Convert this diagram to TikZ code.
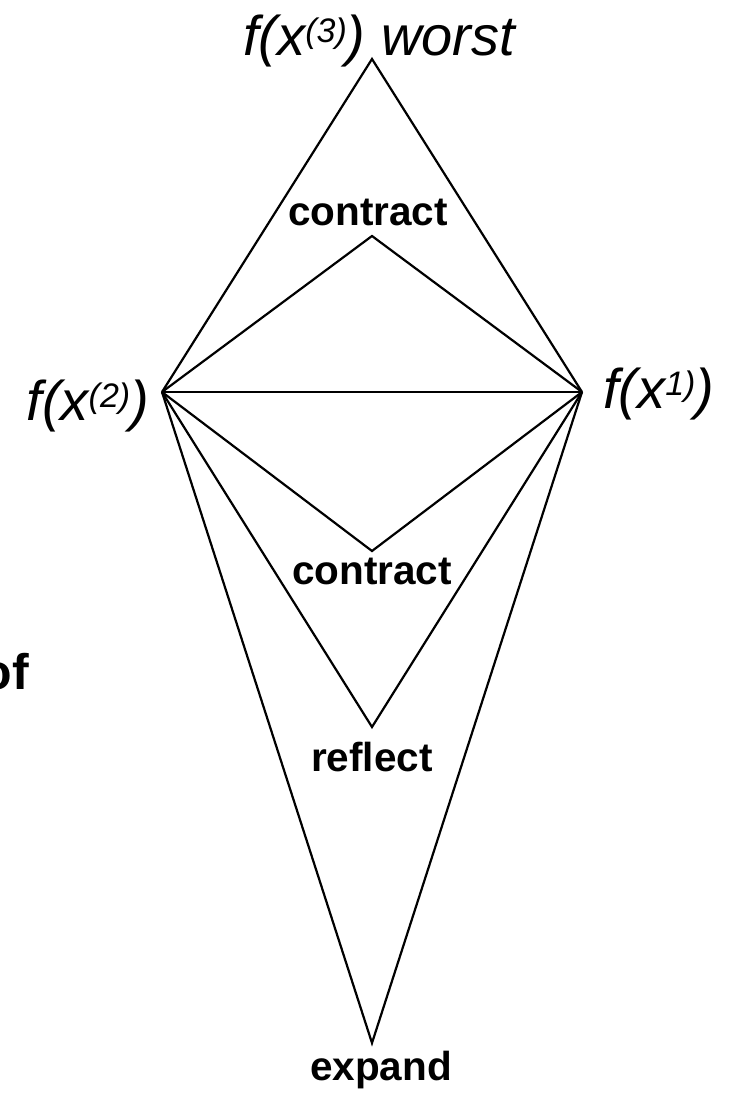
\documentclass[tikz,border=0pt]{standalone}
\usepackage{fontspec}
\setmainfont{Liberation Sans}
\usetikzlibrary{positioning}

\newcommand{\supidx}[1]{\raisebox{13pt}{\fontsize{34}{34}\selectfont #1}}

\begin{document}
\begin{tikzpicture}[x=1pt, y=-1pt, line width=2.2pt,
    fval/.style={inner sep=0, font=\fontsize{56}{60}\selectfont\itshape},
    move/.style={inner sep=0, font=\fontsize{40.5}{44}\selectfont\bfseries}]
  \useasboundingbox (0,0) rectangle (729,1093);

  % simplex vertices and trial points
  \coordinate (W)  at (372,59);
  \coordinate (X2) at (162,392);
  \coordinate (X1) at (582,392);
  \coordinate (C1) at (372,236);
  \coordinate (C2) at (372,551);
  \coordinate (R)  at (372,727);
  \coordinate (E)  at (372,1043);

  \draw (X2) -- (W) -- (X1);
  \draw (X2) -- (X1);
  \draw (X2) -- (C1) -- (X1);
  \draw (X2) -- (C2) -- (X1);
  \draw (X2) -- (R) -- (X1);
  \draw (X2) -- (E) -- (X1);

  % labels
  \node[fval, anchor=base] (worst) at (379,55) {f(x\supidx{(3)}) worst};
  \node[fval, anchor=base east] (second) at (150,420) {f(x\supidx{(2)})};
  \node[fval, anchor=base west] (best) at (602,408) {f(x\supidx{1)})};
  \node[move, anchor=base] (inner) at (368,225) {contract};
  \node[move, anchor=base] (outer) at (372,584) {contract};
  \node[move, anchor=base] (refl) at (372,771) {reflect};
  \node[move, anchor=base] (expd) at (381,1080) {expand};
  \node[inner sep=0, font=\fontsize{50}{54}\selectfont\bfseries,
        anchor=base east] (cut) at (30,689) {of};
\end{tikzpicture}
\end{document}
